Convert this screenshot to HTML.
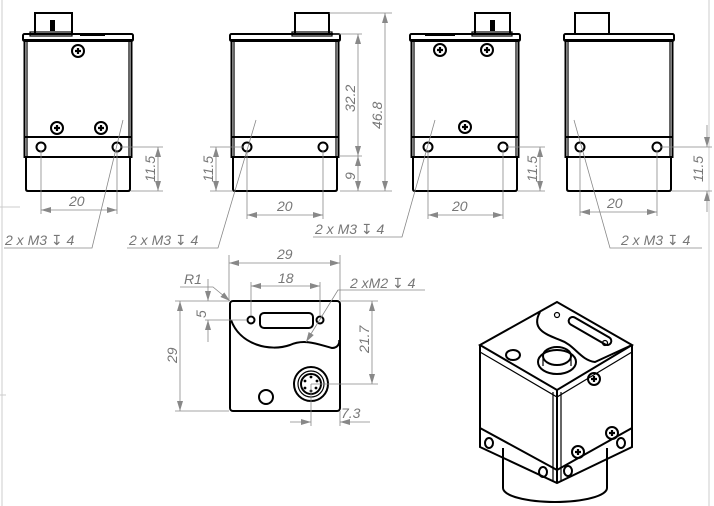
<!DOCTYPE html>
<html><head><meta charset="utf-8"><style>
html,body{margin:0;padding:0;background:#fff;}
svg{display:block}
.b{fill:none;stroke:#000;stroke-width:2}
.t{fill:none;stroke:#000;stroke-width:1.2}
.d{fill:none;stroke:#888;stroke-width:0.8}
text{font-family:"Liberation Sans","DejaVu Sans",sans-serif;font-style:italic;font-size:14px;fill:#777}
.ah{fill:#888}
</style></head><body>
<svg width="714" height="506" viewBox="0 0 714 506" xmlns="http://www.w3.org/2000/svg">
<defs>
<marker id="a" viewBox="0 0 10 6" refX="10" refY="3" markerWidth="10" markerHeight="6" orient="auto-start-reverse" markerUnits="userSpaceOnUse"><path d="M0,0 L10,3 L0,6 z" class="ah"/></marker>
<g id="screw"><circle r="6" class="b"/><path d="M-3,0 H3 M0,-3 V3" stroke="#000" stroke-width="2.2"/></g>
<g id="body">
<rect x="0" y="0" width="110" height="7" rx="1.5" class="b"/>
<rect x="1.5" y="6" width="107" height="117" class="b"/>
<line x1="4" y1="6" x2="4" y2="123" class="t"/><line x1="106" y1="6" x2="106" y2="123" class="t"/>
<line x1="1.5" y1="103" x2="108.5" y2="103" class="b"/>
<path d="M3,122 V155 Q3,157 5,157 H105 Q107,157 107,155 V122" class="b"/>
</g>
</defs>
<line x1="2" y1="0" x2="2" y2="506" stroke="#ccc" stroke-width="1"/>
<line x1="709" y1="0" x2="709" y2="506" stroke="#ccc" stroke-width="1"/>
<line x1="0" y1="207" x2="20" y2="207" stroke="#ccc" stroke-width="1"/>
<line x1="0" y1="395" x2="6" y2="395" stroke="#ccc" stroke-width="1"/>

<!-- View 1 -->
<rect x="35" y="13" width="37" height="21" class="b"/>
<rect x="50" y="20" width="5" height="11" fill="#000"/>
<rect x="30" y="32" width="42" height="4" class="t"/>
<rect x="80" y="33" width="25" height="3" fill="#000"/>
<use href="#body" x="23" y="34"/>
<use href="#screw" x="78" y="51"/><use href="#screw" x="57" y="128"/><use href="#screw" x="101" y="128"/>
<circle cx="41" cy="147" r="4.5" class="b"/><circle cx="117" cy="147" r="4.5" class="b"/>
<line x1="121" y1="147" x2="163" y2="147" class="d"/><line x1="131" y1="191" x2="163" y2="191" class="d"/>
<line x1="158" y1="147" x2="158" y2="191" class="d" marker-start="url(#a)" marker-end="url(#a)"/>
<text transform="translate(155,182) rotate(-90)">11.5</text>
<line x1="41" y1="150" x2="41" y2="214" class="d"/><line x1="117" y1="150" x2="117" y2="214" class="d"/>
<line x1="41" y1="210" x2="117" y2="210" class="d" marker-start="url(#a)" marker-end="url(#a)"/>
<text x="69" y="206">20</text>
<polyline points="123,120 92,248 4,248" class="d"/>
<text x="5" y="245">2 x M3 ↧ 4</text>

<!-- View 2 -->
<rect x="295" y="13" width="34" height="21" class="b"/>
<rect x="292" y="32" width="40" height="4" class="t"/>
<use href="#body" x="230" y="34"/>
<circle cx="247" cy="147" r="4.5" class="b"/><circle cx="323" cy="147" r="4.5" class="b"/>
<line x1="210" y1="147" x2="243" y2="147" class="d"/><line x1="210" y1="191" x2="233" y2="191" class="d"/>
<line x1="216" y1="147" x2="216" y2="191" class="d" marker-start="url(#a)" marker-end="url(#a)"/>
<text transform="translate(213,182) rotate(-90)">11.5</text>
<line x1="247" y1="150" x2="247" y2="219" class="d"/><line x1="323" y1="150" x2="323" y2="219" class="d"/>
<line x1="247" y1="215" x2="323" y2="215" class="d" marker-start="url(#a)" marker-end="url(#a)"/>
<text x="277" y="211">20</text>
<polyline points="256,120 218,248 127,248" class="d"/>
<text x="129" y="245">2 x M3 ↧ 4</text>
<line x1="329" y1="13" x2="392" y2="13" class="d"/><line x1="333" y1="34" x2="362" y2="34" class="d"/>
<line x1="340" y1="156" x2="362" y2="156" class="d"/><line x1="340" y1="191" x2="392" y2="191" class="d"/>
<line x1="358" y1="34" x2="358" y2="156" class="d" marker-start="url(#a)" marker-end="url(#a)"/>
<line x1="358" y1="156" x2="358" y2="191" class="d" marker-start="url(#a)" marker-end="url(#a)"/>
<line x1="385" y1="13" x2="385" y2="191" class="d" marker-start="url(#a)" marker-end="url(#a)"/>
<text transform="translate(355,112) rotate(-90)">32.2</text>
<text transform="translate(355,180) rotate(-90)">9</text>
<text transform="translate(382,129) rotate(-90)">46.8</text>

<!-- View 3 -->
<rect x="475" y="13" width="35" height="21" class="b"/>
<rect x="490" y="20" width="5" height="11" fill="#000"/>
<rect x="472" y="32" width="40" height="4" class="t"/>
<rect x="425" y="33" width="30" height="3" fill="#000"/>
<use href="#body" x="410" y="34"/>
<use href="#screw" x="440" y="50"/><use href="#screw" x="487" y="50"/><use href="#screw" x="465" y="127"/>
<circle cx="428" cy="147" r="4.5" class="b"/><circle cx="503" cy="147" r="4.5" class="b"/>
<line x1="507" y1="147" x2="545" y2="147" class="d"/><line x1="518" y1="191" x2="545" y2="191" class="d"/>
<line x1="540" y1="147" x2="540" y2="191" class="d" marker-start="url(#a)" marker-end="url(#a)"/>
<text transform="translate(537,182) rotate(-90)">11.5</text>
<line x1="428" y1="150" x2="428" y2="219" class="d"/><line x1="503" y1="150" x2="503" y2="219" class="d"/>
<line x1="428" y1="215" x2="503" y2="215" class="d" marker-start="url(#a)" marker-end="url(#a)"/>
<text x="452" y="211">20</text>
<polyline points="435,120 402,237 313,237" class="d"/>
<text x="315" y="234">2 x M3 ↧ 4</text>

<!-- View 4 -->
<rect x="575" y="13" width="34" height="21" class="b"/>
<use href="#body" x="564" y="34"/>
<circle cx="580" cy="147" r="4.5" class="b"/><circle cx="657" cy="147" r="4.5" class="b"/>
<line x1="661" y1="147" x2="712" y2="147" class="d"/><line x1="672" y1="191" x2="712" y2="191" class="d"/>
<line x1="707" y1="125" x2="707" y2="147" class="d" marker-end="url(#a)"/>
<line x1="707" y1="212" x2="707" y2="191" class="d" marker-end="url(#a)"/>
<text transform="translate(703,182) rotate(-90)">11.5</text>
<line x1="580" y1="150" x2="580" y2="216" class="d"/><line x1="657" y1="150" x2="657" y2="216" class="d"/>
<line x1="580" y1="212" x2="657" y2="212" class="d" marker-start="url(#a)" marker-end="url(#a)"/>
<text x="607" y="208">20</text>
<polyline points="574,120 610,248 702,248" class="d"/>
<text x="621" y="245">2 x M3 ↧ 4</text>

<!-- Front view -->
<rect x="230" y="301" width="110" height="110" rx="3" class="b"/>
<path d="M231,320 C240,345 270,352 290,345 C305,338 320,345 332,348 C338,348 340,343 339,340" class="b"/>
<circle cx="251" cy="320" r="3.5" class="b"/><circle cx="320" cy="320" r="3.5" class="b"/>
<rect x="260" y="313" width="53" height="15" rx="4" class="b"/>
<circle cx="311" cy="384" r="17" class="b"/><circle cx="311" cy="384" r="13" class="t"/><circle cx="311" cy="384" r="10" class="b"/>
<g fill="#000"><circle cx="311" cy="377" r="1.4"/><circle cx="317" cy="381" r="1.4"/><circle cx="316" cy="388" r="1.4"/><circle cx="311" cy="391" r="1.4"/><circle cx="305" cy="388" r="1.4"/><circle cx="305" cy="381" r="1.4"/></g>
<circle cx="266" cy="397" r="7" class="b"/>
<line x1="229" y1="255" x2="229" y2="300" class="d"/><line x1="340" y1="255" x2="340" y2="300" class="d"/>
<line x1="229" y1="263" x2="340" y2="263" class="d" marker-start="url(#a)" marker-end="url(#a)"/>
<text x="277" y="259">29</text>
<line x1="251" y1="282" x2="251" y2="316" class="d"/><line x1="320" y1="282" x2="320" y2="316" class="d"/>
<line x1="251" y1="286" x2="320" y2="286" class="d" marker-start="url(#a)" marker-end="url(#a)"/>
<text x="278" y="283">18</text>
<polyline points="180,287 213,287 230,301" class="d" marker-end="url(#a)"/>
<text x="184" y="284">R1</text>
<line x1="205" y1="320" x2="247" y2="320" class="d"/>
<line x1="208" y1="279" x2="208" y2="301" class="d" marker-end="url(#a)"/>
<line x1="208" y1="342" x2="208" y2="320" class="d" marker-end="url(#a)"/>
<text transform="translate(206,318) rotate(-90)">5</text>
<line x1="175" y1="301" x2="229" y2="301" class="d"/><line x1="175" y1="411" x2="229" y2="411" class="d"/>
<line x1="180" y1="301" x2="180" y2="411" class="d" marker-start="url(#a)" marker-end="url(#a)"/>
<text transform="translate(177,363) rotate(-90)">29</text>
<line x1="340" y1="301" x2="378" y2="301" class="d"/><line x1="311" y1="384" x2="378" y2="384" class="d"/>
<line x1="372" y1="301" x2="372" y2="384" class="d" marker-start="url(#a)" marker-end="url(#a)"/>
<text transform="translate(369,353) rotate(-90)">21.7</text>
<line x1="311" y1="384" x2="311" y2="426" class="d"/><line x1="340" y1="411" x2="340" y2="426" class="d"/>
<line x1="290" y1="422" x2="311" y2="422" class="d" marker-end="url(#a)"/>
<line x1="370" y1="422" x2="340" y2="422" class="d" marker-end="url(#a)"/>
<text x="341" y="418">7.3</text>
<polyline points="306,342 338,290 425,290" class="d" marker-start="url(#a)"/>
<text x="350" y="288">2 xM2 ↧ 4</text>

<!-- Iso view -->
<path d="M503,448 V488 A52,14 0 0 0 607,488 V448" class="b"/>
<polygon points="557,302 480,345 557,390 632,345" class="b"/>
<polyline points="480,352 557,397 632,352" class="t"/>
<path d="M480,345 V447 L557,483 L632,447 V345" class="b"/>
<line x1="557" y1="390" x2="557" y2="483" class="b"/>
<line x1="553" y1="392" x2="553" y2="482" class="t"/><line x1="561" y1="392" x2="561" y2="482" class="t"/>
<polyline points="480,428 557,470 632,428" class="b"/>
<path d="M540,312 C530,330 548,335 560,340 C575,345 580,360 595,362 L632,345" class="b"/>
<rect x="566" y="327" width="48" height="8" rx="4" transform="rotate(30 590 331)" class="b"/>
<circle cx="557" cy="315" r="2.5" class="t"/><circle cx="605" cy="343" r="2.5" class="t"/>
<ellipse cx="513" cy="355" rx="7" ry="5" class="b"/>
<ellipse cx="557" cy="362" rx="19" ry="12" class="b"/>
<ellipse cx="557" cy="356" rx="14" ry="9" class="b"/>
<line x1="543" y1="356" x2="543" y2="366" class="t"/><line x1="571" y1="356" x2="571" y2="366" class="t"/>
<use href="#screw" x="594" y="379"/><use href="#screw" x="578" y="452"/><use href="#screw" x="612" y="433"/>
<ellipse cx="489" cy="443" rx="4" ry="5" class="b"/><ellipse cx="543" cy="472" rx="4" ry="5" class="b"/>
<ellipse cx="568" cy="471" rx="4" ry="5" class="b"/><ellipse cx="621" cy="443" rx="4" ry="5" class="b"/>
</svg>
</body></html>
